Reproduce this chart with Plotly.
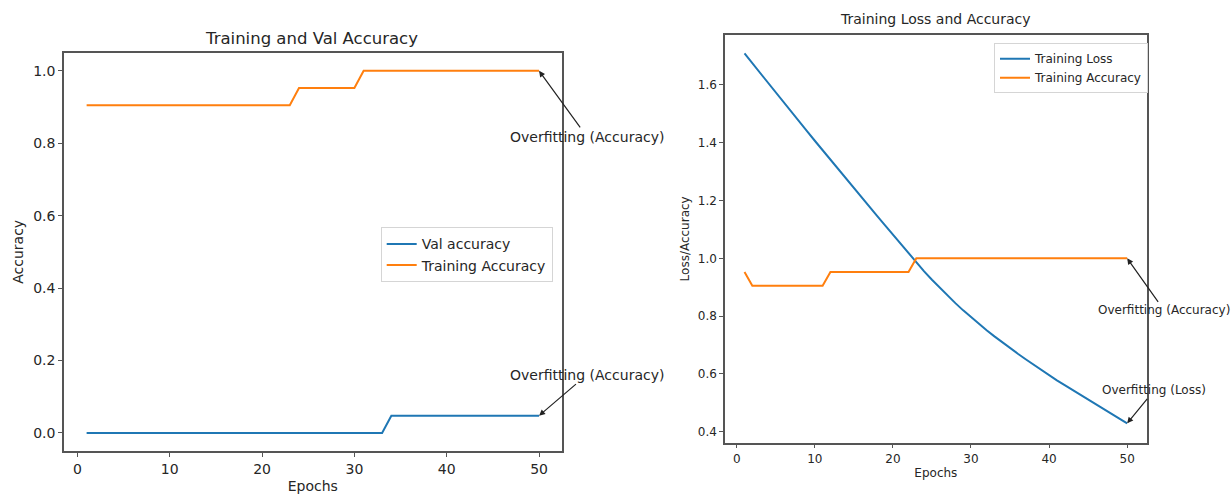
import plotly.graph_objects as go

W, H = 1232, 496

epochs = list(range(1, 51))

# Left panel: Training and Val Accuracy
val_accuracy = [0.0] * 33 + [0.0476] * 17
train_accuracy_left = [0.9048] * 23 + [0.9524] * 7 + [1.0] * 20

# Right panel: Training Loss and Accuracy
train_loss = [
    1.709, 1.675, 1.641, 1.607, 1.574, 1.540, 1.507, 1.473, 1.440, 1.407,
    1.374, 1.341, 1.308, 1.275, 1.243, 1.210, 1.178, 1.146, 1.114, 1.082,
    1.050, 1.018, 0.986, 0.955, 0.926, 0.898, 0.871, 0.845, 0.820, 0.796,
    0.773, 0.751, 0.730, 0.709, 0.689, 0.670, 0.651, 0.632, 0.614, 0.596,
    0.578, 0.561, 0.544, 0.527, 0.510, 0.494, 0.477, 0.461, 0.445, 0.429,
]
train_accuracy_right = [0.9524] + [0.9048] * 10 + [0.9524] * 11 + [1.0] * 28

BLUE = "#1f77b4"
ORANGE = "#ff7f0e"
AX = "#555555"
TXT = "#262626"
FONT = "DejaVu Sans"


def px(x):
    return x / W


def py(y):
    return 1 - y / H


fig = go.Figure()

fig.add_trace(go.Scatter(x=epochs, y=val_accuracy, mode="lines", name="Val accuracy",
                         line=dict(color=BLUE, width=2), xaxis="x", yaxis="y", legend="legend"))
fig.add_trace(go.Scatter(x=epochs, y=train_accuracy_left, mode="lines", name="Training Accuracy",
                         line=dict(color=ORANGE, width=2), xaxis="x", yaxis="y", legend="legend"))
fig.add_trace(go.Scatter(x=epochs, y=train_loss, mode="lines", name="Training Loss",
                         line=dict(color=BLUE, width=2), xaxis="x2", yaxis="y2", legend="legend2"))
fig.add_trace(go.Scatter(x=epochs, y=train_accuracy_right, mode="lines", name="Training Accuracy",
                         line=dict(color=ORANGE, width=2), xaxis="x2", yaxis="y2", legend="legend2"))

axis_common = dict(showline=True, mirror=True, linecolor=AX, linewidth=1.5, showgrid=False,
                   zeroline=False, ticks="outside", ticklen=4, tickcolor=AX, tickwidth=1)

fig.update_layout(
    width=W, height=H,
    margin=dict(l=0, r=0, t=0, b=0),
    paper_bgcolor="white", plot_bgcolor="white",
    font=dict(family=FONT, color=TXT, size=14),
    xaxis=dict(domain=[px(64), px(561.7)], range=[-1.45, 52.45], dtick=10, tick0=0,
               anchor="y", tickfont=dict(size=14),
               title=dict(text="Epochs", font=dict(size=14), standoff=6), **axis_common),
    yaxis=dict(domain=[py(451), py(52.7)], range=[-0.05, 1.05], dtick=0.2, tick0=0,
               tickformat=".1f", anchor="x", tickfont=dict(size=14),
               title=dict(text="Accuracy", font=dict(size=14), standoff=6), **axis_common),
    xaxis2=dict(domain=[px(725), px(1146.7)], range=[-1.5, 52.5], dtick=10, tick0=0,
                anchor="y2", tickfont=dict(size=12),
                title=dict(text="Epochs", font=dict(size=12), standoff=4), **axis_common),
    yaxis2=dict(domain=[py(442.7), py(35)], range=[0.362, 1.773], dtick=0.2, tick0=0,
                tickformat=".1f", anchor="x2", tickfont=dict(size=12),
                title=dict(text="Loss/Accuracy", font=dict(size=12), standoff=6), **axis_common),
    legend=dict(x=px(380.7), y=py(227.3), xanchor="left", yanchor="top",
                bordercolor="#d5d5d5", borderwidth=1, bgcolor="rgba(255,255,255,0.8)",
                font=dict(size=14, color=TXT), itemwidth=30, tracegroupgap=0),
    legend2=dict(x=px(994), y=py(43.3), xanchor="left", yanchor="top",
                 bordercolor="#d5d5d5", borderwidth=1, bgcolor="rgba(255,255,255,0.8)",
                 font=dict(size=12, color=TXT), itemwidth=30, tracegroupgap=0),
    showlegend=True,
)

annotations = [
    dict(text="Training and Val Accuracy", xref="paper", yref="paper", x=px(312), y=py(38),
         showarrow=False, font=dict(size=16.5, color=TXT), xanchor="center", yanchor="middle"),
    dict(text="Training Loss and Accuracy", xref="paper", yref="paper", x=px(935), y=py(19),
         showarrow=False, font=dict(size=14, color=TXT), xanchor="center", yanchor="middle"),
    dict(text="Overfitting (Accuracy)", xref="x", yref="y", x=epochs[-1], y=train_accuracy_left[-1],
         ax=48, ay=66, showarrow=True, arrowhead=2, arrowsize=1, arrowwidth=1.2,
         arrowcolor="#222", font=dict(size=14, color=TXT)),
    dict(text="Overfitting (Accuracy)", xref="x", yref="y", x=epochs[-1], y=val_accuracy[-1],
         ax=48, ay=-41, showarrow=True, arrowhead=2, arrowsize=1, arrowwidth=1.2,
         arrowcolor="#222", font=dict(size=14, color=TXT)),
    dict(text="Overfitting (Accuracy)", xref="x2", yref="y2", x=epochs[-1], y=train_accuracy_right[-1],
         ax=37, ay=52, showarrow=True, arrowhead=2, arrowsize=1, arrowwidth=1.2,
         arrowcolor="#222", font=dict(size=12, color=TXT)),
    dict(text="Overfitting (Loss)", xref="x2", yref="y2", x=epochs[-1], y=train_loss[-1],
         ax=27, ay=-33, showarrow=True, arrowhead=2, arrowsize=1, arrowwidth=1.2,
         arrowcolor="#222", font=dict(size=12, color=TXT)),
]
fig.update_layout(annotations=annotations)

fig.write_html("out.html")
